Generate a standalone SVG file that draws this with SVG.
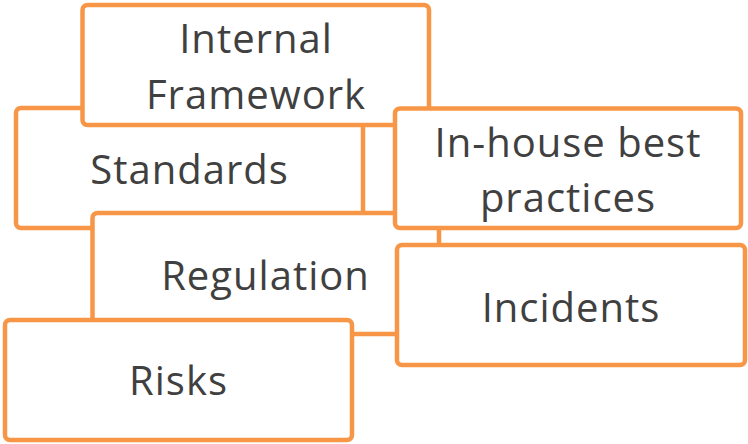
<svg xmlns="http://www.w3.org/2000/svg" width="748" height="444" viewBox="0 0 748 444">
<style>
.box{fill:#FFFFFF;stroke:#F79646;stroke-width:4.5}
.lbl{font-family:"Open Sans","Noto Sans","Liberation Sans",sans-serif;font-size:40px;letter-spacing:1px;fill:#404040;text-anchor:middle}
</style>
<rect width="748" height="444" fill="#FFFFFF"/>
<g id="connectors"></g>
<g id="standards">
<rect class="box" x="16" y="108" width="347" height="120" rx="5"/>
<text class="lbl" x="189.5" y="184">Standards</text>
</g>
<g id="internal-framework">
<rect class="box" x="82.5" y="5" width="346.5" height="120" rx="5"/>
<text class="lbl" x="256" y="53">Internal</text>
<text class="lbl" x="256" y="109">Framework</text>
</g>
<g id="regulation">
<rect class="box" x="92.5" y="213" width="346.5" height="121" rx="5"/>
<text class="lbl" x="265.5" y="290">Regulation</text>
</g>
<g id="in-house">
<rect class="box" x="395" y="108.5" width="346" height="119.5" rx="5"/>
<text class="lbl" x="568" y="157">In-house best</text>
<text class="lbl" x="568" y="212">practices</text>
</g>
<g id="incidents">
<rect class="box" x="397" y="245" width="348" height="120" rx="5"/>
<text class="lbl" x="571" y="322">Incidents</text>
</g>
<g id="risks">
<rect class="box" x="5" y="320" width="347" height="120" rx="5"/>
<text class="lbl" x="178.5" y="395">Risks</text>
</g>
</svg>
